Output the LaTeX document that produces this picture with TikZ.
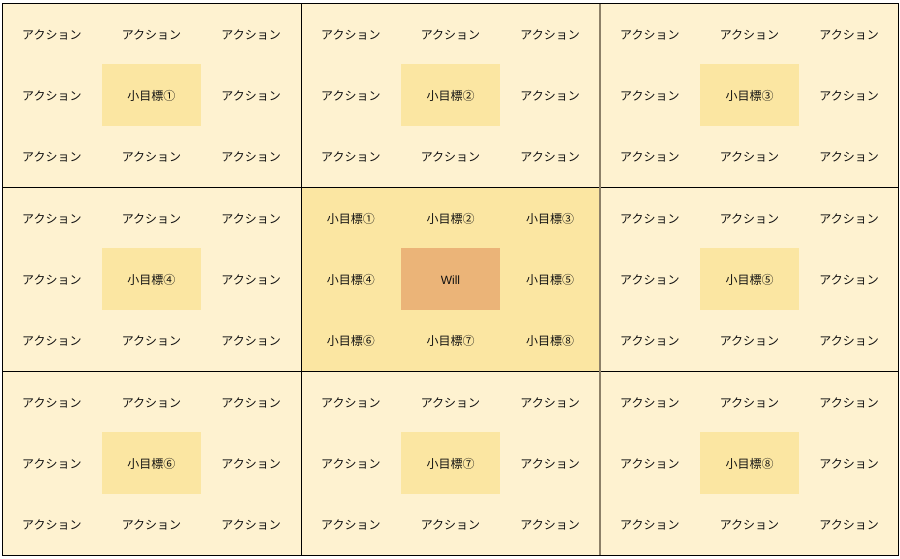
\documentclass[tikz,border=0pt]{standalone}
\usepackage{fontspec}
\setmainfont{Noto Sans CJK JP}
\newfontfamily\latinfont{Liberation Sans}
\definecolor{lightY}{HTML}{FEF2D0}
\definecolor{midY}{HTML}{FBE6A2}
\definecolor{willC}{HTML}{EBB478}
\definecolor{grayline}{HTML}{8C8068}
\definecolor{txt}{HTML}{111111}
\newcommand\circnum[1]{\ifcase#1 ①\or ②\or ③\or ④\or \or ⑤\or ⑥\or ⑦\or ⑧\fi}
\tikzset{
  cellbox/.style={minimum width=99.67pt, minimum height=61.33pt, inner sep=0pt,
    text height=11pt, text depth=0pt,
    anchor=center, font=\fontsize{12}{14}\selectfont, text=txt},
  frameline/.style={black, line width=1pt},
}
\begin{document}
\begin{tikzpicture}[x=1pt,y=-1pt]
\useasboundingbox (0,0) rectangle (900,558);
\fill[lightY] (2,3) rectangle (898,555);
\fill[midY] (301,187) rectangle (600,371);
\foreach \br in {0,1,2} {
 \foreach \bc in {0,1,2} {
  \foreach \cr in {0,1,2} {
   \foreach \cc in {0,1,2} {
    \pgfmathtruncatemacro\bk{3*\br+\bc}
    \pgfmathtruncatemacro\ck{3*\cr+\cc}
    \pgfmathsetmacro\cx{2+299*\bc+99.667*\cc+49.83}
    \pgfmathsetmacro\cy{3+184*\br+61.333*\cr+30.67}
    \ifnum\bk=4
      \ifnum\ck=4
        \node[cellbox, fill=willC] (b\bk c\ck) at (\cx,\cy) {\latinfont Will};
      \else
        \node[cellbox] (b\bk c\ck) at (\cx,\cy) {小目標\circnum{\ck}};
      \fi
    \else
      \ifnum\ck=4
        \node[cellbox, fill=midY] (b\bk c\ck) at (\cx,\cy) {小目標\circnum{\bk}};
      \else
        \node[cellbox] (b\bk c\ck) at (\cx,\cy) {アクション};
      \fi
    \fi
   }
  }
 }
}
\draw[frameline] (301,3) -- (301,555);
\draw[frameline] (2,187) -- (898,187);
\draw[frameline] (2,371) -- (898,371);
\draw[grayline, line width=1.6pt] (600,3) -- (600,555);
\draw[frameline] (2,3) rectangle (898,555);
\end{tikzpicture}
\end{document}
